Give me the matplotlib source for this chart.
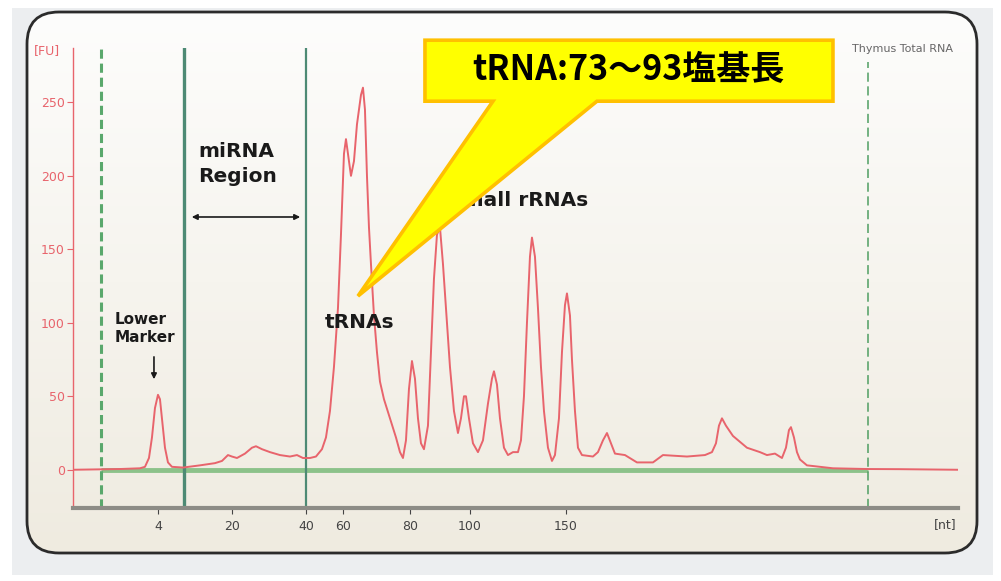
import numpy as np
import matplotlib.pyplot as plt
from matplotlib.colors import LinearSegmentedColormap
from matplotlib.patches import FancyBboxPatch, Polygon, Rectangle

# electropherogram trace: migration time [s] vs fluorescence [FU]
time_s = [20.00, 21.35, 22.35, 23.35, 23.60, 23.80, 23.95, 24.10, 24.25, 24.35,
          24.45, 24.60, 24.75, 24.95, 25.50, 26.35, 27.10, 27.45, 27.75, 27.95,
          28.20, 28.60, 28.95, 29.15, 29.45, 29.85, 30.35, 30.85, 31.20, 31.50,
          31.85, 32.15, 32.45, 32.65, 32.85, 33.05, 33.25, 33.40, 33.55, 33.65,
          33.75, 33.90, 34.05, 34.20, 34.40, 34.50, 34.60, 34.70, 34.80, 34.90,
          35.05, 35.20, 35.35, 35.55, 35.85, 36.15, 36.35, 36.50, 36.65, 36.80,
          36.95, 37.10, 37.25, 37.40, 37.55, 37.75, 37.90, 38.05, 38.20, 38.35,
          38.50, 38.65, 38.85, 39.05, 39.25, 39.40, 39.55, 39.65, 39.80, 40.00,
          40.25, 40.50, 40.75, 40.95, 41.05, 41.20, 41.35, 41.55, 41.75, 42.00,
          42.25, 42.40, 42.55, 42.70, 42.85, 42.95, 43.10, 43.25, 43.40, 43.55,
          43.75, 43.95, 44.10, 44.30, 44.45, 44.60, 44.70, 44.85, 44.95, 45.10,
          45.25, 45.45, 46.00, 46.25, 46.50, 46.70, 46.90, 47.10, 47.60, 48.20,
          49.00, 49.50, 50.70, 51.60, 51.95, 52.15, 52.30, 52.45, 52.65, 53.00,
          53.70, 54.35, 54.70, 55.10, 55.45, 55.65, 55.80, 55.90, 56.05, 56.20,
          56.35, 56.70, 58.00, 59.70, 61.35, 62.85, 64.25]
fu = [0, 0.3, 0.5, 1, 2, 8, 22, 42, 51, 48,
      35, 15, 5, 2, 1.5, 3, 4.5, 6, 10, 9,
      8, 11, 15, 16, 14, 12, 10, 9, 10, 8,
      8, 9, 14, 22, 40, 70, 110, 160, 215, 225,
      215, 200, 210, 235, 255, 260, 245, 200, 165, 140,
      105, 80, 60, 48, 35, 22, 12, 8, 20, 55,
      74, 62, 35, 18, 14, 30, 80, 130, 160, 165,
      140, 110, 70, 40, 25, 35, 50, 50, 35, 18,
      12, 20, 45, 62, 67, 58, 35, 15, 10, 12,
      12, 20, 50, 100, 145, 158, 145, 110, 70, 40,
      15, 6, 10, 35, 80, 112, 120, 105, 75, 40,
      15, 10, 9, 12, 20, 25, 18, 11, 10, 5,
      5, 10, 9, 10, 12, 18, 30, 35, 30, 23,
      15, 12, 10, 11, 8, 15, 27, 29, 22, 12,
      7, 3, 1, 0.5, 0.4, 0.2, 0]

# ladder positions (time) and their size labels
nt_ticks = [24.25, 27.95, 31.65, 33.50, 36.85, 39.85, 44.65]
nt_labels = ['4', '20', '40', '60', '80', '100', '150']
fu_ticks = [0, 50, 100, 150, 200, 250]

marker_window = [21.40, 59.75]   # dashed lines
mirna_region = [25.55, 31.65]    # solid lines

fig = plt.figure(figsize=(10.01, 5.81), dpi=100)
fig.patch.set_facecolor('white')

# background frame (pixel space)
bg = fig.add_axes([0, 0, 1, 1], zorder=-1)
bg.set_xlim(0, 1001)
bg.set_ylim(581, 0)
bg.axis('off')
bg.add_patch(Rectangle((12, 8), 981, 567, color='#eceef0', lw=0))
panel = FancyBboxPatch((27, 12), 950, 541, boxstyle='round,pad=0,rounding_size=32',
                       fc='none', ec='#2b2b2b', lw=2.0, zorder=3)
bg.add_patch(panel)
cmap = LinearSegmentedColormap.from_list('pan', ['#fdfdfc', '#f6f4ee', '#efebe0'])
im = bg.imshow(np.linspace(0, 1, 256).reshape(-1, 1), extent=(27, 977, 553, 12),
               cmap=cmap, aspect='auto', zorder=1)
im.set_clip_path(panel)

ax = fig.add_axes([0.0729, 0.1257, 0.8841, 0.7917])
ax.patch.set_alpha(0)
ax.set_xlim(20, 64.25)
ax.set_ylim(-26, 287)

# baseline and region lines
ax.hlines(0, marker_window[0], marker_window[1], color='#8cc28a', lw=3.5, zorder=2)
ax.axvline(marker_window[0], color='#5aa86c', lw=2.2, ls=(0, (3, 1.6)), zorder=2)
ax.axvline(marker_window[1], color='#4f9e62', lw=1.1, ls=(0, (6, 3)), ymax=0.97, zorder=2)
ax.axvline(mirna_region[0], color='#4d8a74', lw=2.4, zorder=2)
ax.axvline(mirna_region[1], color='#4d8a74', lw=1.6, zorder=2)

ax.plot(time_s, fu, color='#e8646c', lw=1.4, zorder=3)

# axes styling
for s in ['top', 'right']:
    ax.spines[s].set_visible(False)
ax.spines['left'].set_color('#e8646c')
ax.spines['left'].set_linewidth(1.0)
ax.spines['bottom'].set_color('#8d8c86')
ax.spines['bottom'].set_linewidth(3)
ax.set_yticks(fu_ticks)
ax.set_xticks(nt_ticks)
ax.set_xticklabels(nt_labels)
ax.tick_params(axis='y', colors='#e8646c', labelsize=9, length=4, pad=2)
ax.tick_params(axis='x', colors='#444444', labelsize=9, length=4, pad=5)

ax.text(18.7, 285.5, '[FU]', color='#e8646c', fontsize=9, ha='center', va='center')
ax.text(63.6, -37, '[nt]', color='#444444', fontsize=9, ha='center', va='center')
ax.text(64.0, 286, 'Thymus Total RNA', color='#666666', fontsize=8,
        ha='right', va='center', zorder=1)

bold = dict(fontweight='bold', color='#1a1a1a', family='DejaVu Sans')
ax.text(26.25, 208, 'miRNA\nRegion', fontsize=14.5, ha='left', va='center',
        linespacing=1.35, **bold)
ax.annotate('', xy=(25.8, 172), xytext=(31.5, 172),
            arrowprops=dict(arrowstyle='<|-|>', color='#1a1a1a', lw=1.2,
                            mutation_scale=8))
ax.text(22.1, 96, 'Lower\nMarker', fontsize=11, ha='left', va='center',
        linespacing=1.2, **bold)
ax.annotate('', xy=(24.05, 59.7), xytext=(24.05, 78.7),
            arrowprops=dict(arrowstyle='-|>', color='#1a1a1a', lw=1.2,
                            mutation_scale=8))
ax.text(32.6, 100.5, 'tRNAs', fontsize=14.5, ha='left', va='center', **bold)
ax.text(45.75, 183, 'Small rRNAs', fontsize=14.5, ha='right', va='center',
        zorder=4, **bold)

# callout
callout = Polygon([(37.60, 292.3), (58.00, 292.3), (58.00, 250.8), (46.20, 250.8),
                   (34.25, 118.2), (41.00, 250.8), (37.60, 250.8)],
                  closed=True, fc='#ffff00', ec='#ffc000', lw=2.6,
                  joinstyle='miter', clip_on=False, zorder=6)
ax.add_patch(callout)
ax.text(47.75, 272.5, 'tRNA:73～93塩基長', fontsize=24.5, fontweight='bold',
        family=['Noto Sans CJK JP', 'DejaVu Sans'], color='black',
        ha='center', va='center', zorder=7)

plt.savefig('out.png', dpi=100)
